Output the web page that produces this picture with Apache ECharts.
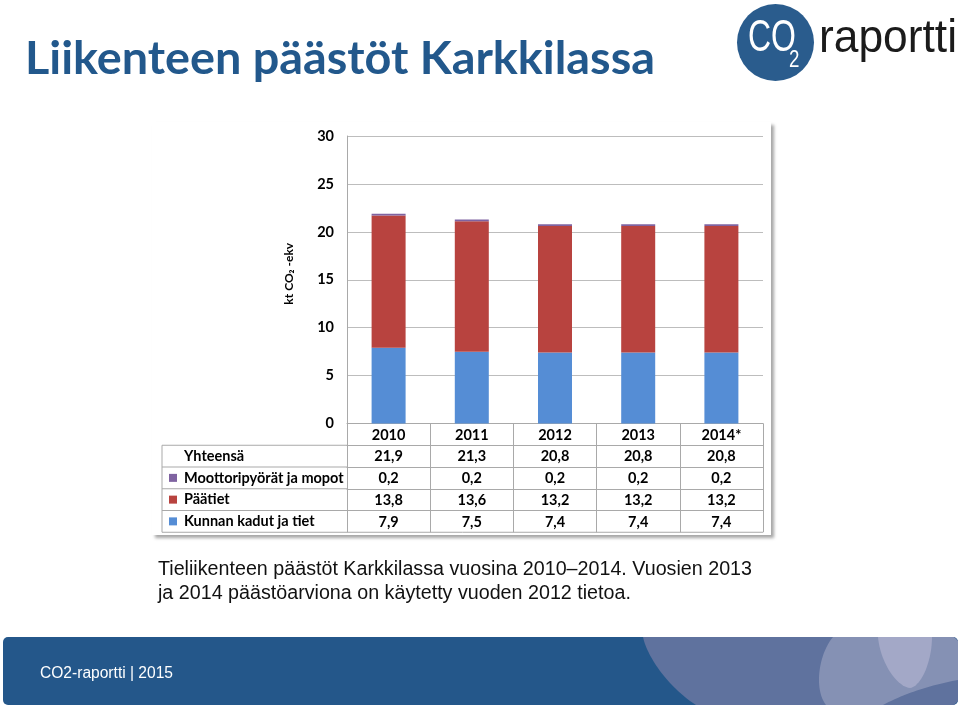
<!DOCTYPE html>
<html>
<head>
<meta charset="utf-8">
<script src="https://cdn.jsdelivr.net/npm/echarts@6/dist/echarts.min.js"></script>
<style>
html,body{margin:0;padding:0;background:#fff;}
#c{width:960px;height:707px;}
</style>
</head>
<body>
<div id="c"></div>
<script>
// ---- data ----
const categories = ['2010', '2011', '2012', '2013', '2014*'];
const kunnan = [7.9, 7.5, 7.4, 7.4, 7.4];
const paatiet = [13.8, 13.6, 13.2, 13.2, 13.2];
const moottori = [0.2, 0.2, 0.2, 0.2, 0.2];
const totals = [21.9, 21.3, 20.8, 20.8, 20.8];
const seriesNames = ['Kunnan kadut ja tiet', 'Päätiet', 'Moottoripyörät ja mopot'];
const totalName = 'Yhteensä';
const yMin = 0, yMax = 30, yStep = 5;
const titleText = 'Liikenteen päästöt Karkkilassa';
const yName = 'kt CO₂ -ekv';
const captionLines = ['Tieliikenteen päästöt Karkkilassa vuosina 2010–2014. Vuosien 2013',
                      'ja 2014 päästöarviona on käytetty vuoden 2012 tietoa.'];
const footerText = 'CO2-raportti | 2015';
const logoWord = 'raportti';

// ---- styling ----
const colors = ['#558DD5', '#B8433F', '#7F63A1'];
const FONT = 'Lato, "Noto Sans", sans-serif';
const lineCol = '#A9A9A9';
const gridTop = 136, gridBottomY = 423.5, gridLeft = 347, gridRight = 763;
const rowH = 21.75;
const FS = 14.5;

const mctx = document.createElement('canvas').getContext('2d');
function measure(text, font) { mctx.font = font; return mctx.measureText(text).width; }

const fmt = v => v.toFixed(1).replace('.', ',');

const tableRows = [
  { name: totalName, values: totals, color: null },
  { name: seriesNames[2], values: moottori, color: colors[2] },
  { name: seriesNames[1], values: paatiet, color: colors[1] },
  { name: seriesNames[0], values: kunnan, color: colors[0] }
];

const labelStyle = { fontFamily: FONT, fontWeight: 'bold', fontSize: FS, color: '#000' };

const xAxes = [{
  type: 'category', data: categories, gridIndex: 0, position: 'bottom',
  axisLine: { lineStyle: { color: lineCol } },
  axisTick: { show: true, interval: 0, length: rowH * 5, lineStyle: { color: lineCol } },
  axisLabel: Object.assign({ margin: 4, interval: 0 }, labelStyle)
}];
tableRows.forEach((r, k) => {
  xAxes.push({
    type: 'category', data: categories, gridIndex: 0, position: 'bottom',
    offset: rowH * (k + 1),
    axisLine: { show: true, lineStyle: { color: lineCol } },
    axisTick: { show: false },
    axisLabel: Object.assign({ margin: 4, interval: 0, formatter: (v, i) => fmt(r.values[i]) }, labelStyle)
  });
});

// sample a path made of line / cubic segments into polygon points (decoration only)
function shapePoints(segs) {
  const pts = [];
  let cur = segs[0].p;
  pts.push(cur);
  for (let s = 1; s < segs.length; s++) {
    const g = segs[s];
    if (g.c) {
      const [c1, c2, p] = g.c;
      for (let i = 1; i <= 24; i++) {
        const t = i / 24, u = 1 - t;
        pts.push([
          u*u*u*cur[0] + 3*u*u*t*c1[0] + 3*u*t*t*c2[0] + t*t*t*p[0],
          u*u*u*cur[1] + 3*u*u*t*c1[1] + 3*u*t*t*c2[1] + t*t*t*p[1]
        ]);
      }
      cur = p;
    } else {
      pts.push(g.p); cur = g.p;
    }
  }
  return pts;
}

// ---- decorations ----
const graphics = [];
graphics.push({ type: 'rect', z: -10, shape: { x: 152, y: 122, width: 619, height: 413 },
  style: { fill: '#fff', shadowColor: 'rgba(0,0,0,0.35)', shadowBlur: 3, shadowOffsetX: 3, shadowOffsetY: 3 } });
const tLeft = 162, tTop = gridBottomY + rowH, tBottom = gridBottomY + rowH * 5;
for (let k = 1; k <= 5; k++) {
  const y = gridBottomY + rowH * k;
  graphics.push({ type: 'line', shape: { x1: tLeft, y1: y, x2: k === 5 ? gridRight : gridLeft, y2: y },
    style: { stroke: lineCol, lineWidth: 1 } });
}
graphics.push({ type: 'line', shape: { x1: tLeft, y1: tTop, x2: tLeft, y2: tBottom }, style: { stroke: lineCol, lineWidth: 1 } });
tableRows.forEach((r, k) => {
  const cy = gridBottomY + rowH * (k + 1) + rowH / 2;
  if (r.color) graphics.push({ type: 'rect', shape: { x: 169, y: cy - 4, width: 8, height: 8 }, style: { fill: r.color } });
  graphics.push({ type: 'text', x: 184, y: cy, style: { text: r.name, fontFamily: FONT, fontWeight: 'bold', fontSize: FS, fill: '#000', verticalAlign: 'middle', align: 'left' } });
});

// title
const tfs = 44 * 630 / measure(titleText, 'bold 44px ' + FONT);
graphics.push({ type: 'text', x: 25, y: 59, style: { text: titleText, fontFamily: FONT, fontWeight: 'bold', fontSize: tfs, fill: '#22588C', verticalAlign: 'middle' } });

// logo
graphics.push({ type: 'circle', shape: { cx: 775.5, cy: 42.5, r: 38.5 }, style: { fill: '#2A5C8D' } });
const coFont = '45px "Liberation Sans", sans-serif';
const coScale = 48 / measure('CO', coFont);
graphics.push({ type: 'text', x: 748, y: 39, scaleX: coScale, style: { text: 'CO', font: coFont, fill: '#fff', verticalAlign: 'middle' } });
const twoFont = '24px "Liberation Sans", sans-serif';
graphics.push({ type: 'text', x: 789, y: 60, scaleX: 0.78, style: { text: '2', font: twoFont, fill: '#fff', verticalAlign: 'middle' } });
const rFont = '46px "Liberation Sans", sans-serif';
const rScale = 138 / measure(logoWord, rFont);
graphics.push({ type: 'text', x: 819, y: 39, scaleX: rScale, style: { text: logoWord, font: rFont, fill: '#1B1B1B', verticalAlign: 'middle' } });

// caption
const capFont = '19.5px "Liberation Sans", sans-serif';
const capScale = 594 / measure(captionLines[0], capFont);
graphics.push({ type: 'text', x: 158, y: 570, scaleX: capScale, style: { text: captionLines[0], font: capFont, fill: '#111', verticalAlign: 'middle' } });
graphics.push({ type: 'text', x: 158, y: 594, scaleX: capScale, style: { text: captionLines[1], font: capFont, fill: '#111', verticalAlign: 'middle' } });

// footer band
graphics.push({ type: 'rect', shape: { x: 3, y: 637, width: 955, height: 68, r: 5 }, style: { fill: '#24578A' } });
graphics.push({ type: 'polygon', shape: { points: shapePoints([
  { p: [643, 637] }, { c: [[648, 660], [672, 690], [696, 705]] }, { p: [954, 705] }, { p: [958, 701] }, { p: [958, 641] }, { p: [954, 637] }
]) }, style: { fill: '#5F729E' } });
graphics.push({ type: 'polygon', shape: { points: shapePoints([
  { p: [833, 637] }, { c: [[818, 655], [814, 690], [826, 705]] }, { p: [883, 705] }, { c: [[905, 693], [935, 684], [958, 680]] }, { p: [958, 641] }, { p: [954, 637] }
]) }, style: { fill: '#8591B4' } });
graphics.push({ type: 'polygon', shape: { points: shapePoints([
  { p: [878, 637] }, { c: [[880, 660], [895, 686], [910, 688]] }, { c: [[922, 686], [932, 660], [932, 637]] }
]) }, style: { fill: '#A3A8C7' } });
const fFont = '16px "Liberation Sans", sans-serif';
const fScale = 133 / measure(footerText, fFont);
graphics.push({ type: 'text', x: 40, y: 674, scaleX: fScale, style: { text: footerText, font: fFont, fill: '#fff', verticalAlign: 'middle' } });

const chart = echarts.init(document.getElementById('c'));
chart.setOption({
  animation: false,
  backgroundColor: '#fff',
  grid: { left: gridLeft, top: gridTop, width: gridRight - gridLeft, height: gridBottomY - gridTop, containLabel: false },
  xAxis: xAxes,
  yAxis: {
    type: 'value', min: yMin, max: yMax, interval: yStep,
    name: yName, nameLocation: 'middle', nameRotate: 90, nameGap: 52,
    nameTextStyle: { fontFamily: FONT, fontWeight: 'bold', fontSize: 12, color: '#000', padding: [0, 0, 0, 12] },
    axisLine: { show: true, lineStyle: { color: lineCol } },
    axisTick: { show: false },
    axisLabel: Object.assign({ margin: 13 }, labelStyle),
    splitLine: { lineStyle: { color: '#BDBDBD' } }
  },
  series: [
    { name: seriesNames[0], type: 'bar', stack: 's', data: kunnan, barWidth: 34, itemStyle: { color: colors[0] } },
    { name: seriesNames[1], type: 'bar', stack: 's', data: paatiet, barWidth: 34, itemStyle: { color: colors[1] } },
    { name: seriesNames[2], type: 'bar', stack: 's', data: moottori, barWidth: 34, itemStyle: { color: colors[2] } }
  ],
  graphic: graphics
});
</script>
</body>
</html>
